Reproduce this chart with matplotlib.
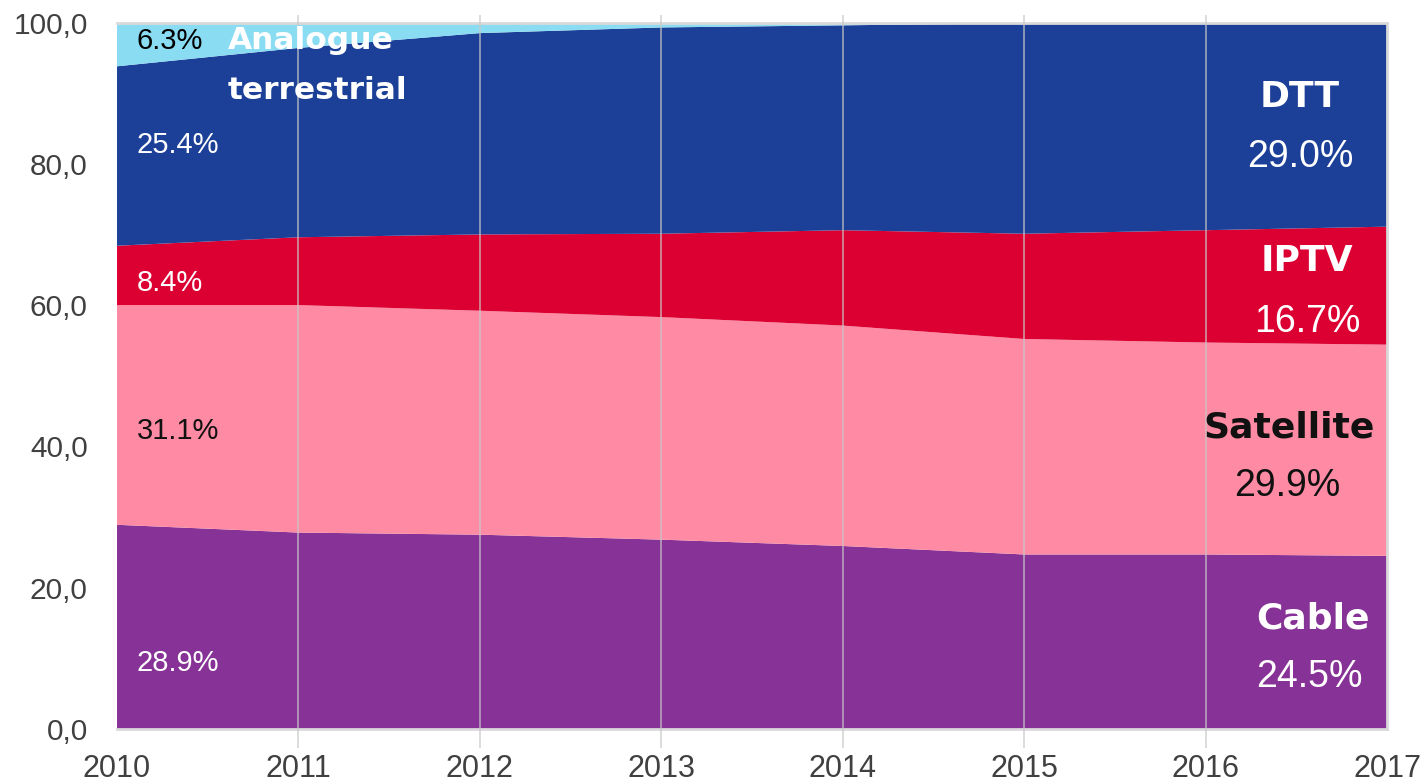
import numpy as np
import matplotlib
matplotlib.use("Agg")
import matplotlib.pyplot as plt

# share of TV households by platform (%)
years = [2010, 2011, 2012, 2013, 2014, 2015, 2016, 2017]
cable = [28.9, 27.8, 27.5, 26.8, 25.9, 24.7, 24.7, 24.5]
satellite = [31.1, 32.2, 31.7, 31.5, 31.2, 30.5, 30.0, 29.9]
iptv = [8.4, 9.6, 10.8, 11.8, 13.5, 14.9, 15.9, 16.7]
dtt = [25.4, 26.8, 28.5, 29.2, 29.0, 29.8, 29.4, 29.0]
analogue = [6.3, 3.6, 1.5, 0.7, 0.4, 0.1, 0.0, 0.0]

series_names = ["Cable", "Satellite", "IPTV", "DTT", "Analogue terrestrial"]
colors = ["#873296", "#ff8aa3", "#dc0032", "#1c4097", "#8adcf2"]

plt.rcParams["font.family"] = ["Liberation Sans", "DejaVu Sans"]

fig = plt.figure(figsize=(14.27, 7.84), dpi=100)
ax = fig.add_axes([0.082, 0.0702, 0.890, 0.9011])

ax.stackplot(years, cable, satellite, iptv, dtt, analogue,
             colors=colors, labels=series_names, linewidth=0)

ax.set_xlim(2010, 2017)
ax.set_ylim(0, 100)
ax.set_yticks(np.arange(0, 101, 20))
ax.set_yticklabels([f"{v:.1f}".replace(".", ",") for v in np.arange(0, 101, 20)])
ax.set_xticks(years)
ax.set_xticklabels([str(y) for y in years])
ax.tick_params(axis="y", length=0, pad=21, labelsize=21.5, labelcolor="#404040")
ax.tick_params(axis="x", length=0, pad=18, labelsize=22, labelcolor="#404040")

# vertical gridlines, running a bit past the plot area like tick marks
for y in years[1:-1]:
    ax.vlines(y, -0.027, 1.01, transform=ax.get_xaxis_transform(),
              color="#c8c8c8", alpha=0.75, lw=1.2, clip_on=False, zorder=3)

for side in ["top", "right", "bottom"]:
    ax.spines[side].set_color("#d9d9d9")
    ax.spines[side].set_linewidth(2)
ax.spines["left"].set_visible(False)

num_kw = dict(fontsize=21, va="center", ha="left")
ax.text(2010.11, 97.4, "6.3%", color="black", **num_kw)
ax.text(2010.11, 82.7, "25.4%", color="white", **num_kw)
ax.text(2010.11, 63.1, "8.4%", color="white", **num_kw)
ax.text(2010.11, 42.2, "31.1%", color="#111111", **num_kw)
ax.text(2010.11, 9.3, "28.9%", color="white", **num_kw)

bold_kw = dict(family="DejaVu Sans", fontweight="bold", va="center")
ax.text(2010.61, 97.4, "Analogue", color="white", fontsize=22.5, ha="left", **bold_kw)
ax.text(2010.61, 90.4, "terrestrial", color="white", fontsize=22.5, ha="left", **bold_kw)

ax.text(2016.52, 89.5, "DTT", color="white", fontsize=26, ha="center", **bold_kw)
ax.text(2016.52, 81.0, "29.0%", color="white", fontsize=27, ha="center", va="center")
ax.text(2016.56, 66.2, "IPTV", color="white", fontsize=26, ha="center", **bold_kw)
ax.text(2016.56, 57.6, "16.7%", color="white", fontsize=27, ha="center", va="center")
ax.text(2016.46, 42.7, "Satellite", color="#111111", fontsize=26, ha="center", **bold_kw)
ax.text(2016.45, 34.4, "29.9%", color="#111111", fontsize=27, ha="center", va="center")
ax.text(2016.59, 15.7, "Cable", color="white", fontsize=26, ha="center", **bold_kw)
ax.text(2016.57, 7.4, "24.5%", color="white", fontsize=27, ha="center", va="center")

fig.savefig("out.png", dpi=100)
